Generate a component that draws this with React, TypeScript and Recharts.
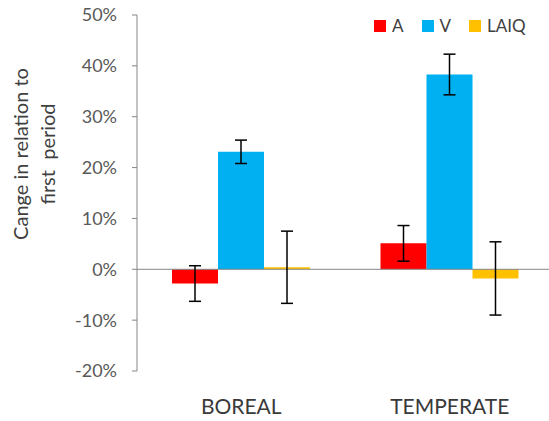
import React from "react";
import { BarChart, Bar, XAxis, YAxis, ErrorBar, ReferenceLine } from "recharts";

const categories = ["BOREAL", "TEMPERATE"];
const aValues = [-2.8, 5.1];
const aErrors = [3.5, 3.5];
const vValues = [23.1, 38.3];
const vErrors = [2.3, 4.0];
const laiqValues = [0.4, -1.8];
const laiqErrors = [7.1, 7.2];
const yTicks = [-20, -10, 0, 10, 20, 30, 40, 50];

const series = [
  { key: "A", err: "aErr", color: "#FF0000" },
  { key: "V", err: "vErr", color: "#00B0F0" },
  { key: "LAIQ", err: "laiqErr", color: "#FFC000" },
];

const data = categories.map((c, i) => ({
  name: c,
  A: aValues[i],
  aErr: aErrors[i],
  V: vValues[i],
  vErr: vErrors[i],
  LAIQ: laiqValues[i],
  laiqErr: laiqErrors[i],
}));

const FONT = "Lato, 'Open Sans', sans-serif";

function LegendBox() {
  return (
    <div
      style={{
        position: "absolute",
        top: 15,
        left: 374,
        display: "flex",
        alignItems: "center",
        fontFamily: FONT,
        fontSize: 17,
        color: "#404040",
      }}
    >
      {series.map((s) => (
        <div key={s.key} style={{ display: "flex", alignItems: "center", marginRight: 18 }}>
          <span style={{ width: 12, height: 12, background: s.color, display: "inline-block", marginRight: 6 }} />
          <span>{s.key}</span>
        </div>
      ))}
    </div>
  );
}

function YLabel() {
  return (
    <text
      transform="translate(0,154) rotate(-90)"
      textAnchor="middle"
      fontFamily={FONT}
      fontSize={20}
      fill="#404040"
    >
      <tspan x={0} y={28}>Cange in relation to</tspan>
      <tspan x={0} y={55}>{"first\u00A0\u00A0period"}</tspan>
    </text>
  );
}

export default function App() {
  return (
    <div style={{ position: "absolute", left: 0, top: 0, width: 549, height: 421, overflow: "hidden", background: "#fff" }}>
      <BarChart
        width={556}
        height={421}
        data={data}
        margin={{ top: 15, right: 2, bottom: 0, left: 0 }}
        barGap={0}
        barSize={46}
      >
        <XAxis
          dataKey="name"
          axisLine={false}
          tickLine={false}
          height={50}
          tickMargin={22}
          tick={{ fill: "#3a3a3a", fontSize: 21, fontFamily: FONT }}
        />
        <XAxis xAxisId="n" type="number" domain={[0, 2]} hide />
        <YAxis
          domain={[-20, 50]}
          ticks={yTicks}
          width={137}
          tickFormatter={(v) => `${v}%`}
          stroke="#868686"
          tickSize={5}
          tickMargin={15}
          tick={{ fill: "#595959", fontSize: 18, fontFamily: FONT }}
          label={{ content: () => <YLabel /> }}
        />
        <ReferenceLine y={0} stroke="#868686" strokeWidth={1} />
        <ReferenceLine
          xAxisId="n"
          segment={[{ x: 1, y: 0 }, { x: 1, y: -1.2 }]}
          stroke="#868686"
        />
        {series.map((s) => (
          <Bar key={s.key} dataKey={s.key} fill={s.color} isAnimationActive={false}>
            <ErrorBar dataKey={s.err} width={6} stroke="#000" strokeWidth={1.5} />
          </Bar>
        ))}
      </BarChart>
      <LegendBox />
    </div>
  );
}
